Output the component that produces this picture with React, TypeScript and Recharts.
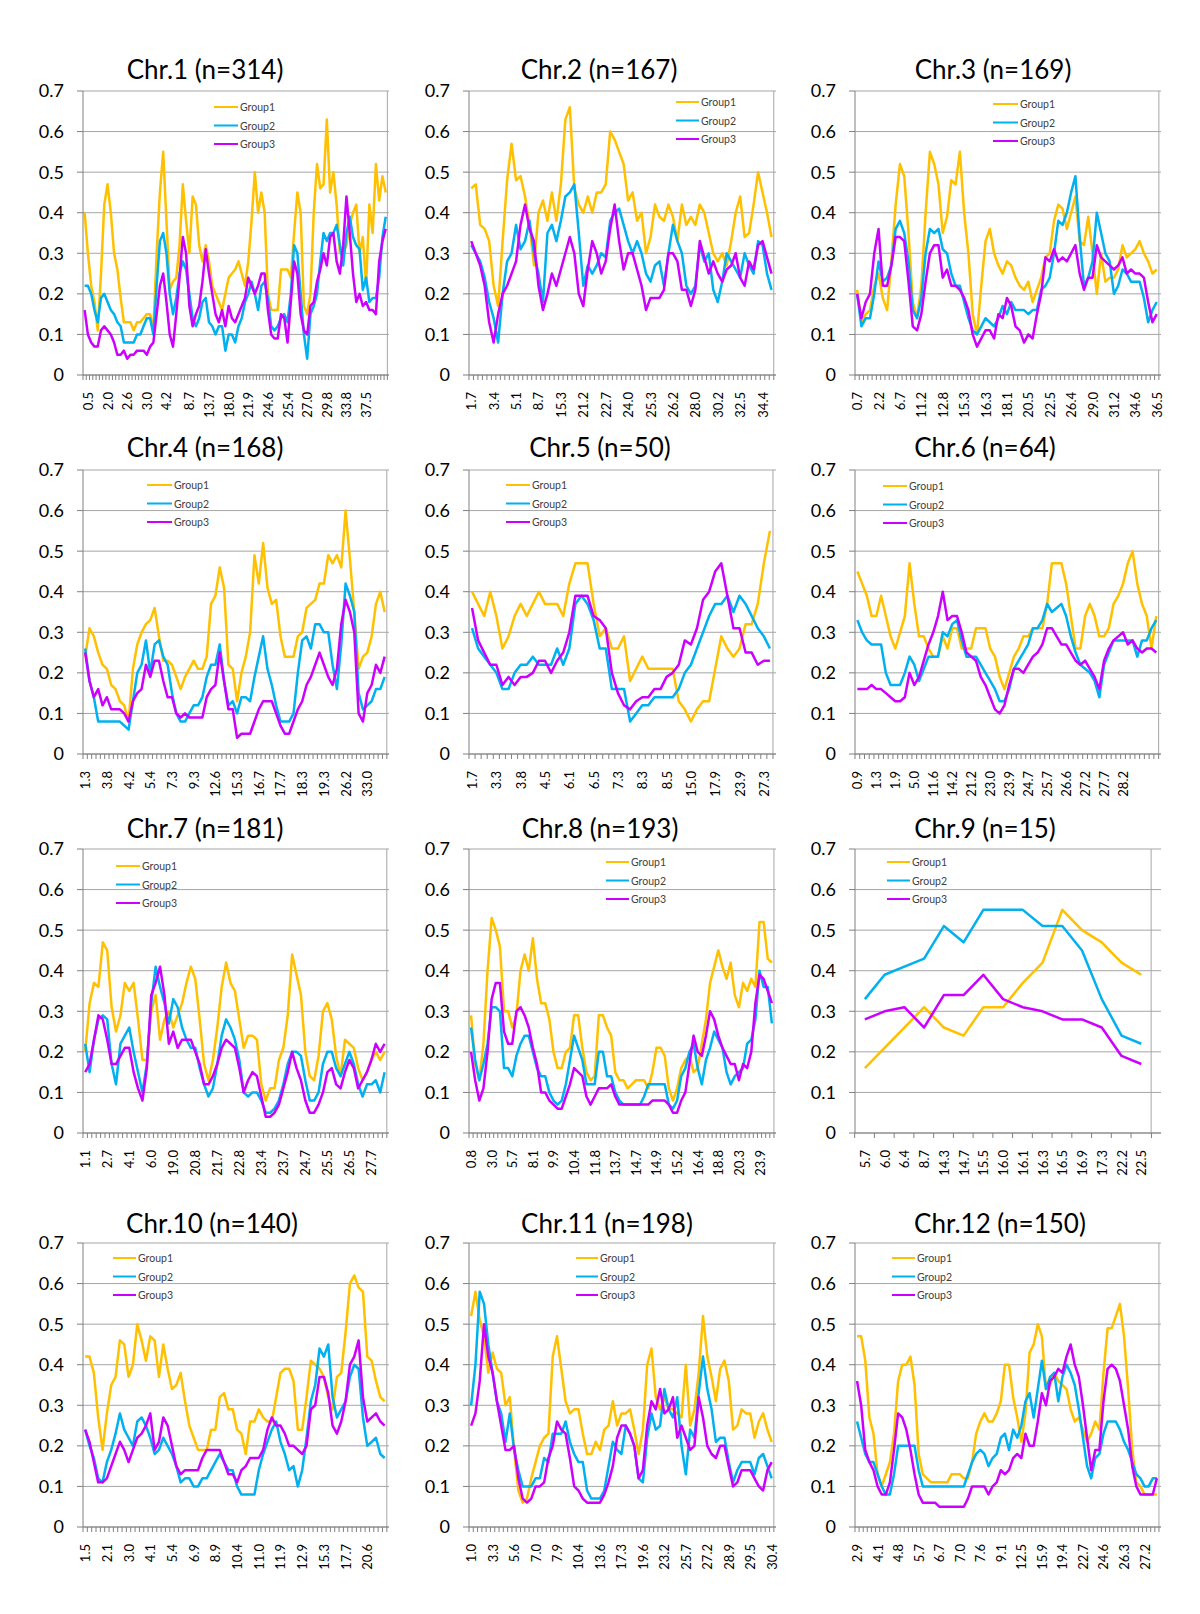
import React from 'react';
import { LineChart, Line, XAxis, YAxis, CartesianGrid, ReferenceLine } from 'recharts';

const FONT = 'Lato, "Open Sans", "DejaVu Sans", sans-serif';
const COLORS = ['#FFC000', '#00B0F0', '#CC00FF'];
const SERIES = ['Group1', 'Group2', 'Group3'];
const Y_TICKS = [0, 0.1, 0.2, 0.3, 0.4, 0.5, 0.6, 0.7];

// ---------- Chr.1 ----------
const chr1Ticks = ['0.5','2.0','2.6','3.0','4.2','8.7','13.7','18.0','21.9','24.6','25.4','27.0','29.8','33.8','37.5'];
const chr1G1 = [0.40,0.30,0.22,0.18,0.11,0.25,0.42,0.47,0.40,0.30,0.26,0.19,0.13,0.13,0.13,0.11,0.13,0.13,0.14,0.15,0.15,0.11,0.30,0.45,0.55,0.38,0.21,0.23,0.24,0.32,0.47,0.38,0.30,0.44,0.42,0.32,0.28,0.32,0.28,0.22,0.20,0.18,0.16,0.20,0.24,0.25,0.26,0.28,0.25,0.22,0.28,0.38,0.50,0.40,0.45,0.40,0.20,0.16,0.16,0.16,0.26,0.26,0.26,0.24,0.35,0.45,0.40,0.17,0.15,0.20,0.40,0.52,0.46,0.47,0.63,0.45,0.50,0.42,0.30,0.30,0.32,0.37,0.40,0.42,0.30,0.34,0.22,0.42,0.35,0.52,0.43,0.49,0.45];
const chr1G2 = [0.22,0.22,0.20,0.16,0.13,0.19,0.20,0.18,0.16,0.15,0.13,0.12,0.08,0.08,0.08,0.08,0.10,0.10,0.12,0.14,0.14,0.10,0.22,0.33,0.35,0.30,0.20,0.15,0.19,0.25,0.28,0.26,0.20,0.14,0.12,0.14,0.18,0.19,0.13,0.12,0.10,0.12,0.12,0.06,0.10,0.10,0.08,0.12,0.14,0.18,0.20,0.23,0.20,0.16,0.22,0.23,0.19,0.12,0.11,0.12,0.14,0.15,0.13,0.20,0.32,0.30,0.20,0.10,0.04,0.15,0.17,0.20,0.28,0.35,0.33,0.35,0.35,0.37,0.32,0.27,0.35,0.39,0.34,0.32,0.31,0.21,0.24,0.18,0.19,0.19,0.24,0.34,0.39];
const chr1G3 = [0.16,0.10,0.08,0.07,0.07,0.11,0.12,0.11,0.10,0.08,0.05,0.05,0.06,0.04,0.05,0.05,0.06,0.06,0.06,0.05,0.07,0.08,0.15,0.22,0.25,0.18,0.10,0.07,0.15,0.24,0.34,0.30,0.17,0.12,0.15,0.17,0.23,0.31,0.25,0.20,0.15,0.13,0.16,0.12,0.17,0.14,0.13,0.15,0.17,0.19,0.24,0.22,0.20,0.22,0.25,0.25,0.16,0.10,0.09,0.09,0.15,0.14,0.08,0.18,0.28,0.25,0.15,0.11,0.10,0.17,0.18,0.23,0.26,0.30,0.27,0.34,0.35,0.28,0.25,0.32,0.44,0.35,0.25,0.18,0.20,0.17,0.18,0.16,0.16,0.15,0.28,0.33,0.36];

// ---------- Chr.2 ----------
const chr2Ticks = ['1.7','3.4','5.1','8.7','15.3','21.2','22.7','24.0','25.3','26.2','28.0','30.2','32.5','34.4'];
const chr2G1 = [0.46,0.47,0.37,0.36,0.33,0.22,0.17,0.33,0.48,0.57,0.48,0.49,0.44,0.37,0.27,0.40,0.43,0.38,0.45,0.38,0.47,0.63,0.66,0.46,0.42,0.40,0.44,0.40,0.45,0.45,0.47,0.60,0.58,0.55,0.52,0.43,0.45,0.38,0.40,0.30,0.34,0.42,0.39,0.38,0.42,0.39,0.33,0.42,0.37,0.39,0.37,0.42,0.40,0.35,0.30,0.28,0.30,0.27,0.33,0.40,0.44,0.34,0.35,0.42,0.50,0.45,0.40,0.34];
const chr2G2 = [0.32,0.30,0.28,0.24,0.18,0.14,0.08,0.20,0.28,0.30,0.37,0.31,0.33,0.38,0.30,0.25,0.18,0.35,0.37,0.33,0.38,0.44,0.45,0.47,0.35,0.22,0.27,0.25,0.27,0.30,0.29,0.38,0.40,0.41,0.37,0.33,0.30,0.33,0.30,0.25,0.23,0.27,0.28,0.22,0.30,0.37,0.33,0.30,0.22,0.20,0.22,0.32,0.28,0.30,0.21,0.18,0.23,0.30,0.28,0.26,0.24,0.30,0.27,0.25,0.33,0.32,0.25,0.21];
const chr2G3 = [0.33,0.30,0.27,0.22,0.13,0.08,0.15,0.20,0.22,0.25,0.28,0.37,0.42,0.36,0.33,0.22,0.16,0.20,0.25,0.22,0.26,0.30,0.34,0.30,0.20,0.17,0.26,0.33,0.30,0.25,0.28,0.36,0.42,0.33,0.26,0.30,0.30,0.26,0.22,0.16,0.19,0.19,0.19,0.21,0.30,0.30,0.28,0.21,0.21,0.17,0.21,0.33,0.29,0.25,0.28,0.25,0.23,0.26,0.27,0.30,0.24,0.22,0.28,0.26,0.32,0.33,0.29,0.25];

// ---------- Chr.3 ----------
const chr3Ticks = ['0.7','2.2','6.7','11.2','12.8','15.3','16.3','18.1','20.5','22.5','26.4','29.0','31.2','34.6','36.5'];
const chr3G1 = [0.21,0.13,0.15,0.16,0.22,0.25,0.19,0.16,0.28,0.42,0.52,0.49,0.35,0.18,0.14,0.22,0.40,0.55,0.52,0.47,0.35,0.39,0.48,0.47,0.55,0.40,0.30,0.15,0.10,0.22,0.33,0.36,0.30,0.27,0.25,0.28,0.27,0.24,0.22,0.21,0.23,0.18,0.21,0.24,0.29,0.30,0.38,0.42,0.41,0.36,0.40,0.44,0.33,0.32,0.39,0.30,0.20,0.30,0.23,0.24,0.24,0.26,0.32,0.29,0.30,0.31,0.33,0.30,0.28,0.25,0.26];
const chr3G2 = [0.20,0.12,0.14,0.14,0.20,0.28,0.23,0.24,0.27,0.36,0.38,0.35,0.28,0.16,0.14,0.19,0.30,0.36,0.35,0.36,0.31,0.30,0.25,0.22,0.22,0.18,0.14,0.11,0.10,0.12,0.14,0.13,0.12,0.14,0.17,0.15,0.18,0.16,0.16,0.16,0.15,0.16,0.16,0.21,0.22,0.24,0.30,0.38,0.37,0.40,0.45,0.49,0.34,0.22,0.24,0.28,0.40,0.35,0.30,0.28,0.20,0.22,0.26,0.25,0.23,0.23,0.23,0.19,0.13,0.16,0.18];
const chr3G3 = [0.20,0.14,0.18,0.20,0.30,0.36,0.22,0.22,0.27,0.34,0.34,0.33,0.23,0.12,0.11,0.15,0.23,0.30,0.32,0.32,0.24,0.26,0.22,0.22,0.21,0.19,0.16,0.10,0.07,0.09,0.11,0.11,0.09,0.15,0.14,0.19,0.17,0.12,0.11,0.08,0.10,0.09,0.15,0.20,0.29,0.28,0.31,0.28,0.29,0.28,0.30,0.32,0.25,0.21,0.24,0.24,0.32,0.29,0.28,0.27,0.26,0.27,0.29,0.25,0.26,0.25,0.25,0.24,0.18,0.13,0.15];

// ---------- Chr.4 ----------
const chr4Ticks = ['1.3','3.8','4.2','5.4','7.3','9.3','12.6','15.3','16.7','17.7','18.3','19.3','26.2','33.0'];
const chr4G1 = [0.24,0.31,0.29,0.25,0.22,0.21,0.17,0.16,0.13,0.12,0.08,0.21,0.27,0.30,0.32,0.33,0.36,0.29,0.23,0.23,0.22,0.19,0.16,0.19,0.21,0.23,0.21,0.21,0.24,0.37,0.39,0.46,0.41,0.22,0.21,0.13,0.20,0.24,0.30,0.49,0.42,0.52,0.41,0.37,0.38,0.29,0.24,0.24,0.24,0.29,0.30,0.36,0.37,0.38,0.42,0.42,0.49,0.47,0.49,0.46,0.60,0.48,0.35,0.21,0.24,0.25,0.29,0.37,0.40,0.35];
const chr4G2 = [0.26,0.18,0.14,0.08,0.08,0.08,0.08,0.08,0.08,0.07,0.06,0.13,0.20,0.22,0.28,0.20,0.27,0.28,0.24,0.22,0.15,0.10,0.08,0.08,0.10,0.12,0.12,0.14,0.19,0.22,0.22,0.27,0.18,0.12,0.13,0.10,0.14,0.14,0.13,0.19,0.24,0.29,0.21,0.17,0.12,0.08,0.08,0.08,0.10,0.20,0.28,0.29,0.26,0.32,0.32,0.30,0.30,0.22,0.16,0.27,0.42,0.39,0.35,0.15,0.11,0.12,0.13,0.16,0.16,0.19];
const chr4G3 = [0.25,0.18,0.14,0.16,0.12,0.14,0.11,0.11,0.11,0.10,0.08,0.13,0.15,0.16,0.22,0.19,0.23,0.23,0.18,0.14,0.14,0.10,0.09,0.10,0.09,0.09,0.09,0.09,0.14,0.16,0.17,0.25,0.18,0.11,0.11,0.04,0.05,0.05,0.05,0.08,0.11,0.13,0.13,0.13,0.10,0.07,0.05,0.05,0.08,0.11,0.13,0.17,0.19,0.22,0.25,0.22,0.19,0.17,0.21,0.32,0.38,0.35,0.30,0.10,0.08,0.15,0.17,0.22,0.20,0.24];

// ---------- Chr.5 ----------
const chr5Ticks = ['1.7','3.3','3.8','4.5','6.1','6.5','7.3','8.3','8.5','15.0','17.9','23.9','27.3'];
const chr5G1 = [0.40,0.37,0.34,0.40,0.34,0.26,0.29,0.34,0.37,0.34,0.37,0.40,0.37,0.37,0.37,0.34,0.42,0.47,0.47,0.47,0.37,0.29,0.31,0.26,0.26,0.29,0.18,0.21,0.24,0.21,0.21,0.21,0.21,0.21,0.13,0.11,0.08,0.11,0.13,0.13,0.21,0.29,0.26,0.24,0.26,0.32,0.32,0.37,0.47,0.55];
const chr5G2 = [0.31,0.26,0.24,0.22,0.20,0.16,0.16,0.20,0.22,0.22,0.24,0.22,0.22,0.22,0.26,0.22,0.26,0.37,0.39,0.37,0.33,0.26,0.26,0.16,0.16,0.16,0.08,0.10,0.12,0.12,0.14,0.14,0.14,0.14,0.16,0.20,0.22,0.26,0.30,0.34,0.37,0.37,0.39,0.35,0.39,0.37,0.34,0.31,0.29,0.26];
const chr5G3 = [0.36,0.28,0.25,0.22,0.22,0.17,0.19,0.17,0.19,0.19,0.20,0.23,0.23,0.20,0.23,0.25,0.30,0.39,0.39,0.39,0.34,0.33,0.31,0.20,0.15,0.12,0.11,0.13,0.14,0.14,0.16,0.16,0.19,0.20,0.22,0.28,0.27,0.31,0.38,0.40,0.45,0.47,0.39,0.31,0.31,0.25,0.25,0.22,0.23,0.23];

// ---------- Chr.6 ----------
const chr6Ticks = ['0.9','1.3','1.9','5.0','11.6','14.2','21.2','23.0','23.9','24.7','25.7','26.6','27.2','27.7','28.2'];
const chr6G1 = [0.45,0.42,0.39,0.34,0.34,0.39,0.34,0.29,0.26,0.30,0.34,0.47,0.37,0.29,0.29,0.26,0.24,0.24,0.29,0.26,0.31,0.31,0.26,0.26,0.26,0.31,0.31,0.31,0.26,0.24,0.19,0.16,0.20,0.24,0.26,0.29,0.29,0.31,0.31,0.31,0.37,0.47,0.47,0.47,0.42,0.34,0.26,0.26,0.34,0.37,0.34,0.29,0.29,0.31,0.37,0.39,0.42,0.47,0.50,0.42,0.37,0.34,0.26,0.34];
const chr6G2 = [0.33,0.30,0.28,0.27,0.27,0.27,0.20,0.17,0.17,0.17,0.20,0.24,0.22,0.18,0.21,0.24,0.24,0.24,0.30,0.29,0.32,0.33,0.28,0.24,0.24,0.24,0.22,0.20,0.18,0.16,0.13,0.13,0.16,0.21,0.23,0.25,0.27,0.31,0.31,0.33,0.37,0.35,0.36,0.37,0.34,0.29,0.25,0.22,0.21,0.20,0.18,0.14,0.22,0.25,0.28,0.28,0.28,0.28,0.28,0.24,0.28,0.28,0.31,0.33];
const chr6G3 = [0.16,0.16,0.16,0.17,0.16,0.16,0.15,0.14,0.13,0.13,0.14,0.20,0.17,0.19,0.23,0.27,0.30,0.34,0.40,0.33,0.34,0.34,0.30,0.25,0.24,0.23,0.19,0.17,0.14,0.11,0.10,0.12,0.17,0.21,0.21,0.20,0.22,0.24,0.25,0.27,0.31,0.31,0.29,0.27,0.27,0.25,0.23,0.22,0.23,0.21,0.19,0.16,0.23,0.26,0.28,0.29,0.30,0.27,0.28,0.26,0.25,0.26,0.26,0.25];

// ---------- Chr.7 ----------
const chr7Ticks = ['1.1','2.7','4.1','6.0','19.0','20.8','21.7','22.8','23.4','23.7','24.7','25.5','26.5','27.7'];
const chr7G1 = [0.20,0.32,0.37,0.36,0.47,0.45,0.31,0.25,0.29,0.37,0.35,0.37,0.28,0.18,0.18,0.30,0.34,0.23,0.28,0.30,0.26,0.29,0.32,0.37,0.41,0.38,0.28,0.17,0.13,0.18,0.26,0.36,0.42,0.37,0.35,0.28,0.21,0.24,0.24,0.23,0.12,0.08,0.11,0.11,0.18,0.21,0.29,0.44,0.39,0.34,0.20,0.14,0.13,0.19,0.30,0.32,0.28,0.19,0.14,0.23,0.22,0.21,0.16,0.13,0.15,0.18,0.20,0.18,0.20];
const chr7G2 = [0.22,0.15,0.23,0.28,0.29,0.28,0.17,0.12,0.22,0.24,0.26,0.20,0.15,0.10,0.17,0.32,0.41,0.36,0.32,0.27,0.33,0.31,0.26,0.23,0.21,0.21,0.16,0.12,0.09,0.11,0.17,0.24,0.28,0.26,0.23,0.18,0.10,0.09,0.10,0.10,0.08,0.05,0.05,0.06,0.08,0.12,0.17,0.20,0.20,0.19,0.13,0.08,0.08,0.10,0.17,0.20,0.20,0.16,0.14,0.17,0.20,0.17,0.12,0.09,0.12,0.12,0.13,0.10,0.15];
const chr7G3 = [0.15,0.17,0.23,0.29,0.28,0.23,0.17,0.17,0.19,0.21,0.21,0.15,0.11,0.08,0.16,0.34,0.37,0.41,0.34,0.22,0.25,0.21,0.23,0.23,0.23,0.20,0.17,0.12,0.12,0.14,0.17,0.21,0.23,0.22,0.21,0.16,0.10,0.13,0.15,0.14,0.09,0.04,0.04,0.05,0.07,0.11,0.15,0.20,0.16,0.13,0.08,0.05,0.05,0.07,0.10,0.15,0.16,0.12,0.11,0.15,0.18,0.16,0.11,0.13,0.15,0.18,0.22,0.20,0.22];

// ---------- Chr.8 ----------
const chr8Ticks = ['0.8','3.0','5.7','8.1','9.9','10.4','11.8','13.7','14.7','14.9','15.2','16.4','18.8','20.3','23.9'];
const chr8G1 = [0.29,0.17,0.13,0.22,0.40,0.53,0.50,0.46,0.30,0.30,0.26,0.29,0.40,0.44,0.40,0.48,0.38,0.32,0.32,0.28,0.20,0.16,0.16,0.20,0.21,0.29,0.29,0.21,0.15,0.13,0.14,0.29,0.29,0.26,0.24,0.15,0.13,0.13,0.11,0.12,0.13,0.13,0.13,0.11,0.15,0.21,0.21,0.19,0.11,0.08,0.11,0.16,0.18,0.19,0.15,0.16,0.22,0.28,0.37,0.41,0.45,0.41,0.38,0.42,0.34,0.31,0.37,0.35,0.38,0.36,0.52,0.52,0.43,0.42];
const chr8G2 = [0.26,0.18,0.13,0.17,0.22,0.31,0.31,0.30,0.16,0.16,0.14,0.19,0.22,0.24,0.24,0.20,0.16,0.14,0.14,0.10,0.08,0.07,0.08,0.12,0.18,0.24,0.21,0.18,0.12,0.12,0.12,0.20,0.20,0.14,0.14,0.10,0.08,0.07,0.07,0.07,0.07,0.07,0.09,0.12,0.12,0.12,0.12,0.12,0.07,0.06,0.08,0.14,0.16,0.20,0.22,0.16,0.12,0.18,0.21,0.25,0.23,0.21,0.15,0.12,0.14,0.15,0.16,0.22,0.23,0.28,0.40,0.36,0.36,0.27];
const chr8G3 = [0.20,0.13,0.08,0.11,0.20,0.33,0.37,0.37,0.25,0.22,0.22,0.30,0.31,0.29,0.26,0.21,0.17,0.10,0.10,0.08,0.07,0.06,0.06,0.09,0.12,0.16,0.15,0.14,0.09,0.07,0.09,0.11,0.11,0.11,0.12,0.09,0.07,0.07,0.07,0.07,0.07,0.07,0.07,0.07,0.08,0.08,0.08,0.08,0.07,0.05,0.05,0.08,0.10,0.17,0.24,0.20,0.19,0.24,0.30,0.28,0.24,0.21,0.19,0.17,0.17,0.13,0.17,0.16,0.20,0.32,0.39,0.38,0.35,0.32];

// ---------- Chr.9 ----------
const chr9Ticks = ['5.7','6.0','6.4','8.7','14.3','14.7','15.5','16.0','16.1','16.3','16.5','16.9','17.3','22.2','22.5'];
const chr9G1 = [0.16,0.21,0.26,0.31,0.26,0.24,0.31,0.31,0.37,0.42,0.55,0.50,0.47,0.42,0.39];
const chr9G2 = [0.33,0.39,0.41,0.43,0.51,0.47,0.55,0.55,0.55,0.51,0.51,0.45,0.33,0.24,0.22];
const chr9G3 = [0.28,0.30,0.31,0.26,0.34,0.34,0.39,0.33,0.31,0.30,0.28,0.28,0.26,0.19,0.17];

// ---------- Chr.10 ----------
const chr10Ticks = ['1.5','2.1','3.0','4.1','5.4','6.9','8.9','10.4','11.0','11.9','12.9','15.3','17.7','20.6'];
const chr10G1 = [0.42,0.42,0.38,0.27,0.19,0.28,0.35,0.37,0.46,0.45,0.37,0.40,0.50,0.46,0.41,0.47,0.46,0.37,0.45,0.39,0.34,0.35,0.38,0.31,0.25,0.22,0.19,0.19,0.19,0.24,0.24,0.32,0.33,0.29,0.29,0.24,0.23,0.18,0.26,0.26,0.29,0.27,0.26,0.26,0.32,0.38,0.39,0.39,0.36,0.24,0.24,0.32,0.41,0.40,0.39,0.37,0.32,0.29,0.37,0.38,0.48,0.60,0.62,0.59,0.58,0.42,0.41,0.36,0.32,0.31];
const chr10G2 = [0.24,0.20,0.17,0.12,0.11,0.16,0.19,0.23,0.28,0.24,0.22,0.20,0.26,0.27,0.25,0.22,0.18,0.19,0.22,0.20,0.18,0.15,0.11,0.12,0.12,0.10,0.10,0.12,0.12,0.14,0.16,0.18,0.16,0.14,0.14,0.10,0.08,0.08,0.08,0.08,0.14,0.18,0.21,0.24,0.26,0.21,0.18,0.14,0.15,0.10,0.14,0.22,0.31,0.35,0.44,0.42,0.45,0.32,0.27,0.29,0.31,0.37,0.40,0.39,0.27,0.20,0.21,0.22,0.18,0.17];
const chr10G3 = [0.24,0.21,0.16,0.11,0.11,0.12,0.15,0.18,0.21,0.19,0.16,0.19,0.22,0.23,0.25,0.28,0.19,0.21,0.27,0.25,0.20,0.15,0.13,0.14,0.14,0.14,0.14,0.17,0.19,0.19,0.19,0.19,0.16,0.13,0.13,0.11,0.14,0.15,0.17,0.17,0.17,0.19,0.24,0.27,0.25,0.25,0.23,0.20,0.20,0.19,0.18,0.20,0.29,0.30,0.37,0.37,0.33,0.25,0.23,0.26,0.31,0.40,0.42,0.46,0.32,0.26,0.27,0.28,0.26,0.25];

// ---------- Chr.11 ----------
const chr11Ticks = ['1.0','3.3','5.6','7.0','7.9','10.4','13.6','17.3','19.6','23.2','25.7','27.2','28.9','29.5','30.4'];
const chr11G1 = [0.52,0.58,0.51,0.47,0.38,0.43,0.39,0.38,0.30,0.32,0.19,0.09,0.06,0.07,0.12,0.16,0.20,0.22,0.23,0.42,0.47,0.39,0.31,0.28,0.29,0.29,0.23,0.18,0.18,0.21,0.19,0.24,0.25,0.31,0.25,0.28,0.28,0.29,0.24,0.18,0.24,0.40,0.44,0.32,0.29,0.32,0.29,0.29,0.28,0.27,0.40,0.25,0.29,0.38,0.52,0.42,0.37,0.31,0.39,0.41,0.36,0.24,0.25,0.29,0.28,0.28,0.22,0.26,0.28,0.24,0.21];
const chr11G2 = [0.30,0.40,0.58,0.55,0.45,0.38,0.31,0.28,0.21,0.28,0.19,0.14,0.10,0.10,0.10,0.12,0.12,0.17,0.16,0.23,0.23,0.23,0.26,0.21,0.18,0.16,0.16,0.09,0.07,0.07,0.07,0.09,0.15,0.21,0.19,0.18,0.25,0.23,0.20,0.12,0.11,0.22,0.28,0.24,0.25,0.34,0.29,0.27,0.32,0.20,0.13,0.24,0.22,0.33,0.42,0.34,0.29,0.21,0.22,0.22,0.16,0.11,0.14,0.16,0.16,0.16,0.13,0.17,0.18,0.15,0.12];
const chr11G3 = [0.25,0.28,0.36,0.50,0.42,0.38,0.31,0.25,0.19,0.19,0.20,0.12,0.07,0.06,0.07,0.10,0.10,0.11,0.17,0.20,0.26,0.24,0.23,0.17,0.10,0.09,0.07,0.06,0.06,0.06,0.06,0.08,0.11,0.15,0.22,0.25,0.25,0.23,0.20,0.12,0.14,0.25,0.31,0.29,0.34,0.28,0.29,0.32,0.22,0.25,0.22,0.19,0.20,0.32,0.27,0.20,0.18,0.17,0.20,0.20,0.15,0.10,0.11,0.14,0.14,0.14,0.12,0.10,0.09,0.14,0.16];

// ---------- Chr.12 ----------
const chr12Ticks = ['2.9','4.1','4.8','5.7','6.7','7.0','7.6','9.1','12.5','15.9','19.4','22.7','24.6','26.3','27.2'];
const chr12G1 = [0.47,0.47,0.41,0.27,0.23,0.13,0.10,0.13,0.16,0.23,0.36,0.40,0.40,0.42,0.35,0.18,0.13,0.12,0.11,0.11,0.11,0.11,0.11,0.13,0.13,0.13,0.12,0.12,0.16,0.23,0.26,0.28,0.26,0.26,0.28,0.31,0.40,0.40,0.32,0.27,0.21,0.28,0.43,0.45,0.50,0.47,0.34,0.35,0.38,0.36,0.35,0.34,0.29,0.26,0.27,0.24,0.21,0.23,0.26,0.24,0.38,0.49,0.49,0.52,0.55,0.47,0.34,0.19,0.11,0.10,0.08,0.08,0.08,0.08];
const chr12G2 = [0.26,0.22,0.18,0.16,0.16,0.13,0.10,0.08,0.08,0.13,0.20,0.20,0.20,0.20,0.20,0.14,0.10,0.10,0.10,0.10,0.10,0.10,0.10,0.10,0.10,0.10,0.10,0.13,0.16,0.18,0.19,0.18,0.15,0.17,0.18,0.22,0.23,0.19,0.24,0.22,0.25,0.31,0.33,0.27,0.34,0.41,0.34,0.37,0.38,0.31,0.37,0.40,0.38,0.35,0.29,0.22,0.15,0.12,0.17,0.18,0.23,0.26,0.26,0.26,0.24,0.21,0.19,0.16,0.13,0.12,0.10,0.10,0.12,0.12];
const chr12G3 = [0.36,0.30,0.19,0.16,0.14,0.10,0.08,0.08,0.11,0.19,0.28,0.27,0.24,0.19,0.13,0.08,0.06,0.06,0.06,0.06,0.05,0.05,0.05,0.05,0.05,0.05,0.05,0.07,0.10,0.10,0.10,0.10,0.08,0.10,0.11,0.14,0.13,0.14,0.17,0.18,0.17,0.23,0.20,0.20,0.26,0.33,0.30,0.36,0.37,0.39,0.38,0.42,0.45,0.40,0.37,0.30,0.22,0.14,0.19,0.19,0.31,0.39,0.40,0.39,0.36,0.30,0.24,0.15,0.10,0.08,0.08,0.08,0.08,0.12];

type PanelDef = {
  title: string; g1: number[]; g2: number[]; g3: number[]; ticks: string[];
  start: number; step: number;
  L: number; T: number; W: number; H: number;
  tx: number; ty: number; lx1: number; lx2: number; ly: number;
};

const H = 284;
const PANELS: PanelDef[] = [
  { title: 'Chr.1 (n=314)', g1: chr1G1, g2: chr1G2, g3: chr1G3, ticks: chr1Ticks, start: 1, step: 6.1, L: 83, T: 91, W: 306, H, tx: 205, ty: 79, lx1: 214, lx2: 238, ly: 107 },
  { title: 'Chr.2 (n=167)', g1: chr2G1, g2: chr2G2, g3: chr2G3, ticks: chr2Ticks, start: 0, step: 5, L: 469, T: 91, W: 307, H, tx: 599, ty: 79, lx1: 676, lx2: 699, ly: 102 },
  { title: 'Chr.3 (n=169)', g1: chr3G1, g2: chr3G2, g3: chr3G3, ticks: chr3Ticks, start: 0, step: 5, L: 855, T: 91, W: 306, H, tx: 993, ty: 79, lx1: 993, lx2: 1018, ly: 104 },
  { title: 'Chr.4 (n=168)', g1: chr4G1, g2: chr4G2, g3: chr4G3, ticks: chr4Ticks, start: 0, step: 5, L: 83, T: 470, W: 306, H, tx: 205, ty: 457, lx1: 147, lx2: 172, ly: 485 },
  { title: 'Chr.5 (n=50)', g1: chr5G1, g2: chr5G2, g3: chr5G3, ticks: chr5Ticks, start: 0, step: 4, L: 469, T: 470, W: 307, H, tx: 600, ty: 457, lx1: 506, lx2: 530, ly: 485 },
  { title: 'Chr.6 (n=64)', g1: chr6G1, g2: chr6G2, g3: chr6G3, ticks: chr6Ticks, start: 0, step: 4, L: 855, T: 470, W: 306, H, tx: 985, ty: 457, lx1: 883, lx2: 907, ly: 486 },
  { title: 'Chr.7 (n=181)', g1: chr7G1, g2: chr7G2, g3: chr7G3, ticks: chr7Ticks, start: 0, step: 5, L: 83, T: 849, W: 306, H, tx: 205, ty: 838, lx1: 116, lx2: 140, ly: 866 },
  { title: 'Chr.8 (n=193)', g1: chr8G1, g2: chr8G2, g3: chr8G3, ticks: chr8Ticks, start: 0, step: 5, L: 469, T: 849, W: 307, H, tx: 600, ty: 838, lx1: 606, lx2: 629, ly: 862 },
  { title: 'Chr.9 (n=15)', g1: chr9G1, g2: chr9G2, g3: chr9G3, ticks: chr9Ticks, start: 0, step: 1, L: 855, T: 849, W: 306, H, tx: 985, ty: 838, lx1: 887, lx2: 910, ly: 862 },
  { title: 'Chr.10 (n=140)', g1: chr10G1, g2: chr10G2, g3: chr10G3, ticks: chr10Ticks, start: 0, step: 5, L: 83, T: 1243, W: 306, H, tx: 212, ty: 1233, lx1: 113, lx2: 136, ly: 1258 },
  { title: 'Chr.11 (n=198)', g1: chr11G1, g2: chr11G2, g3: chr11G3, ticks: chr11Ticks, start: 0, step: 5, L: 469, T: 1243, W: 307, H, tx: 607, ty: 1233, lx1: 576, lx2: 598, ly: 1258 },
  { title: 'Chr.12 (n=150)', g1: chr12G1, g2: chr12G2, g3: chr12G3, ticks: chr12Ticks, start: 0, step: 5, L: 855, T: 1243, W: 306, H, tx: 1000, ty: 1233, lx1: 892, lx2: 915, ly: 1258 },
];

const AXIS = '#808080';
const GRID = '#A6A6A6';

function XTick(props: any) {
  const { x, y, payload, labelMap, half, last } = props;
  const v = payload && payload.value;
  const lbl = labelMap.get(v);
  return (
    <g>
      <line x1={x - half} x2={x - half} y1={y} y2={y + 5} stroke={AXIS} strokeWidth={1} />
      {v === last ? <line x1={x + half} x2={x + half} y1={y} y2={y + 5} stroke={AXIS} strokeWidth={1} /> : null}
      {lbl ? (
        <text
          transform={`translate(${x},${y + 17}) rotate(-90)`}
          textAnchor="end"
          dominantBaseline="central"
          fontSize={13}
          fontFamily={FONT}
          fill="#000"
        >
          {lbl}
        </text>
      ) : null}
    </g>
  );
}

function PanelChart({ p }: { p: PanelDef }) {
  const N = p.g1.length;
  const data = p.g1.map((v, i) => ({ i, g1: v, g2: p.g2[i], g3: p.g3[i] }));
  const labelMap = new Map<number, string>();
  p.ticks.forEach((l, k) => labelMap.set(Math.round(p.start + k * p.step), l));
  const half = p.W / N / 2;
  const tickIdx = data.map((d) => d.i);
  const ML = 70, MT = 20, MR = 10, MB = 70;
  return (
    <div style={{ position: 'absolute', left: p.L - ML, top: p.T - MT }}>
      <LineChart
        width={p.W + ML + MR}
        height={p.H + MT + MB}
        data={data}
        margin={{ top: MT, right: MR, bottom: 20, left: 20 }}
      >
        <CartesianGrid vertical={false} stroke={GRID} strokeWidth={1} />
        <XAxis
          dataKey="i"
          type="number"
          domain={[-0.5, N - 0.5]}
          ticks={tickIdx}
          interval={0}
          height={50}
          axisLine={{ stroke: AXIS, strokeWidth: 1 }}
          tickLine={false}
          tickSize={0}
          tickMargin={0}
          allowDecimals={false}
          tick={(tp: any) => <XTick {...tp} labelMap={labelMap} half={half} last={N - 1} />}
        />
        <YAxis
          type="number"
          domain={[0, 0.7]}
          ticks={Y_TICKS}
          interval={0}
          width={50}
          axisLine={{ stroke: AXIS, strokeWidth: 1 }}
          tickLine={{ stroke: AXIS, strokeWidth: 1 }}
          tickSize={6}
          tickMargin={13}
          tick={{ fontSize: 18, fill: '#000', fontFamily: FONT }}
          tickFormatter={(v: number) => (v === 0 ? '0' : v.toFixed(1))}
        />
        <ReferenceLine x={N - 0.5} stroke={GRID} strokeWidth={1} />
        <Line type="linear" dataKey="g1" stroke={COLORS[0]} strokeWidth={2.5} dot={false} isAnimationActive={false} strokeLinejoin="round" />
        <Line type="linear" dataKey="g2" stroke={COLORS[1]} strokeWidth={2.5} dot={false} isAnimationActive={false} strokeLinejoin="round" />
        <Line type="linear" dataKey="g3" stroke={COLORS[2]} strokeWidth={2.5} dot={false} isAnimationActive={false} strokeLinejoin="round" />
      </LineChart>
    </div>
  );
}

export default function App() {
  return (
    <div style={{ position: 'absolute', left: 0, top: 0, width: 1200, height: 1614, background: '#fff', fontFamily: FONT }}>
      {PANELS.map((p) => (
        <PanelChart key={p.title} p={p} />
      ))}
      <svg width={1200} height={1614} style={{ position: 'absolute', left: 0, top: 0, pointerEvents: 'none' }}>
        {PANELS.map((p) => (
          <g key={p.title}>
            <text x={p.tx} y={p.ty} textAnchor="middle" fontSize={26} fontFamily={FONT} fill="#000">
              {p.title}
            </text>
            {SERIES.map((s, k) => (
              <g key={s}>
                <line x1={p.lx1} x2={p.lx2} y1={p.ly + k * 18.5} y2={p.ly + k * 18.5} stroke={COLORS[k]} strokeWidth={2} />
                <text x={p.lx2 + 2} y={p.ly + k * 18.5} dominantBaseline="central" fontSize={10.5} fontFamily={FONT} fill="#404040">
                  {s}
                </text>
              </g>
            ))}
          </g>
        ))}
      </svg>
    </div>
  );
}
